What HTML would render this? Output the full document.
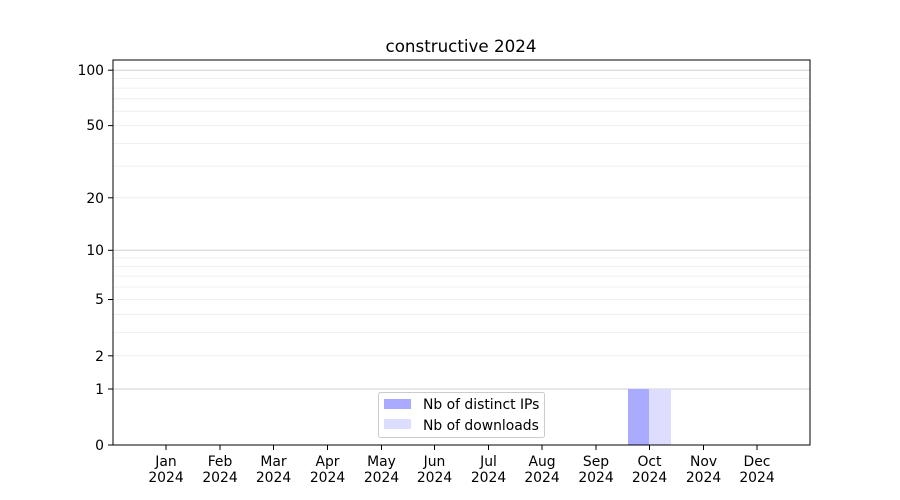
<!DOCTYPE html>
<html><head><meta charset="utf-8"><style>body{margin:0;background:#fff}svg{display:block;font-family:"DejaVu Sans",sans-serif}</style></head><body>
<svg width="900" height="500" viewBox="0 0 900 500">
<rect width="900" height="500" fill="#fff"/>
<text x="461" y="52" font-size="16.7" text-anchor="middle">constructive 2024</text>
<g stroke="#ebebeb" stroke-width="0.8">
<line x1="113" x2="810" y1="355.8" y2="355.8"/><line x1="113" x2="810" y1="332.4" y2="332.4"/><line x1="113" x2="810" y1="314.3" y2="314.3"/><line x1="113" x2="810" y1="299.5" y2="299.5"/><line x1="113" x2="810" y1="287" y2="287"/><line x1="113" x2="810" y1="276.1" y2="276.1"/><line x1="113" x2="810" y1="266.6" y2="266.6"/><line x1="113" x2="810" y1="258" y2="258"/>
<line x1="113" x2="810" y1="197.8" y2="197.8"/><line x1="113" x2="810" y1="166.1" y2="166.1"/><line x1="113" x2="810" y1="143.4" y2="143.4"/><line x1="113" x2="810" y1="125.6" y2="125.6"/><line x1="113" x2="810" y1="111.2" y2="111.2"/><line x1="113" x2="810" y1="98.8" y2="98.8"/><line x1="113" x2="810" y1="88.1" y2="88.1"/><line x1="113" x2="810" y1="78.6" y2="78.6"/>
</g>
<g stroke="#cfcfcf" stroke-width="1">
<line x1="113" x2="810" y1="389" y2="389"/><line x1="113" x2="810" y1="250.3" y2="250.3"/><line x1="113" x2="810" y1="70.2" y2="70.2"/>
</g>
<rect x="628" y="389" width="21" height="56" fill="#aaaaff"/>
<rect x="649" y="389" width="22" height="56" fill="#ddddff"/>
<rect x="113" y="60" width="697" height="385" fill="none" stroke="#000" stroke-width="1"/>
<g stroke="#000" stroke-width="1">
<line x1="108" x2="113" y1="445" y2="445"/><line x1="108" x2="113" y1="389" y2="389"/><line x1="108" x2="113" y1="355.8" y2="355.8"/><line x1="108" x2="113" y1="299.5" y2="299.5"/><line x1="108" x2="113" y1="250.3" y2="250.3"/><line x1="108" x2="113" y1="197.8" y2="197.8"/><line x1="108" x2="113" y1="125.6" y2="125.6"/><line x1="108" x2="113" y1="70.2" y2="70.2"/>
</g>
<g font-size="13.9" text-anchor="end">
<text x="104" y="450">0</text><text x="104" y="394">1</text><text x="104" y="361">2</text><text x="104" y="304">5</text><text x="104" y="255">10</text><text x="104" y="203">20</text><text x="104" y="130">50</text><text x="104" y="75">100</text>
</g>
<g stroke="#000" stroke-width="1">
<line x1="166" x2="166" y1="445" y2="450"/><line x1="220" x2="220" y1="445" y2="450"/><line x1="273.5" x2="273.5" y1="445" y2="450"/><line x1="327.5" x2="327.5" y1="445" y2="450"/><line x1="381.5" x2="381.5" y1="445" y2="450"/><line x1="434.5" x2="434.5" y1="445" y2="450"/><line x1="488.5" x2="488.5" y1="445" y2="450"/><line x1="542" x2="542" y1="445" y2="450"/><line x1="596" x2="596" y1="445" y2="450"/><line x1="649.5" x2="649.5" y1="445" y2="450"/><line x1="703.5" x2="703.5" y1="445" y2="450"/><line x1="757" x2="757" y1="445" y2="450"/>
</g>
<g font-size="13.9" text-anchor="middle">
<text x="166" y="466">Jan</text><text x="166" y="482">2024</text>
<text x="220" y="466">Feb</text><text x="220" y="482">2024</text>
<text x="273.5" y="466">Mar</text><text x="273.5" y="482">2024</text>
<text x="327.5" y="466">Apr</text><text x="327.5" y="482">2024</text>
<text x="381.5" y="466">May</text><text x="381.5" y="482">2024</text>
<text x="434.5" y="466">Jun</text><text x="434.5" y="482">2024</text>
<text x="488.5" y="466">Jul</text><text x="488.5" y="482">2024</text>
<text x="542" y="466">Aug</text><text x="542" y="482">2024</text>
<text x="596" y="466">Sep</text><text x="596" y="482">2024</text>
<text x="649.5" y="466">Oct</text><text x="649.5" y="482">2024</text>
<text x="703.5" y="466">Nov</text><text x="703.5" y="482">2024</text>
<text x="757" y="466">Dec</text><text x="757" y="482">2024</text>
</g>
<rect x="378.5" y="392.5" width="166" height="45" rx="2" fill="#fff" fill-opacity="0.8" stroke="#ccc"/>
<rect x="384" y="399" width="27" height="10" fill="#aaaaff"/>
<rect x="384" y="419" width="27" height="10" fill="#ddddff"/>
<g font-size="13.9"><text x="423" y="409">Nb of distinct IPs</text><text x="423" y="430">Nb of downloads</text></g>
</svg>
</body></html>
